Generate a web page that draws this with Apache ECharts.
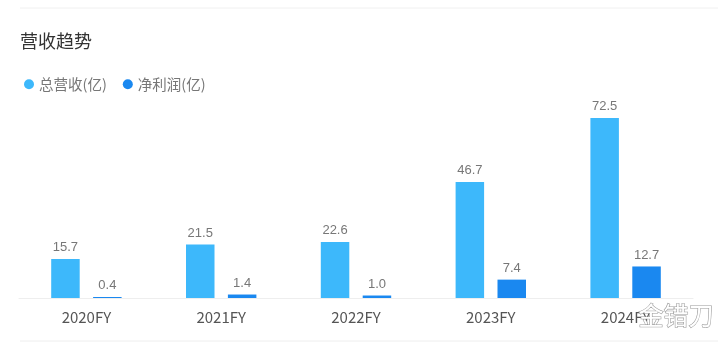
<!DOCTYPE html>
<html><head><meta charset="utf-8">
<script src="https://cdn.jsdelivr.net/npm/echarts@6/dist/echarts.min.js"></script>
<style>html,body{margin:0;padding:0;background:#fff}#c{width:718px;height:344px}</style>
</head><body><div id="c"></div>
<script>
var categories = ['2020FY','2021FY','2022FY','2023FY','2024FY'];
var revenue = [15.7, 21.5, 22.6, 46.7, 72.5];
var netProfit = [0.4, 1.4, 1.0, 7.4, 12.7];
var seriesNames = ['总营收(亿)', '净利润(亿)'];
var chart = echarts.init(document.getElementById('c'));
var font = '"Microsoft YaHei","Noto Sans CJK SC",sans-serif';
chart.setOption({
  animation: false,
  title: { text: '营收趋势', left: 15, top: 27, textStyle: { fontSize: 18, fontWeight: 'normal', color: '#333', fontFamily: font } },
  legend: {
    left: 19, top: 72, icon: 'circle', itemWidth: 10, itemHeight: 10, itemGap: 16,
    textStyle: { fontSize: 14.5, color: '#777', fontFamily: font }
  },
  graphic: [
    { type: 'line', shape: { x1: 20, y1: 8, x2: 718, y2: 8 }, style: { stroke: '#f0f0f0', lineWidth: 1 } },
    { type: 'line', shape: { x1: 20, y1: 341, x2: 718, y2: 341 }, style: { stroke: '#eeeeee', lineWidth: 1 } },
    { type: 'text', left: 638, top: 302, z: 100, style: { text: '金错刀', fontSize: 25, fill: '#ffffff', stroke: '#9a9a9a', lineWidth: 1.2, fontFamily: font } }
  ],
  grid: { left: 19, right: 25, top: 118, bottom: 46 },
  xAxis: {
    type: 'category', data: categories,
    axisLine: { lineStyle: { color: '#eeeeee' } },
    axisTick: { show: false },
    axisLabel: { fontSize: 15, color: '#555', margin: 12, fontFamily: font }
  },
  yAxis: { type: 'value', min: 0, max: 72.5, show: false, splitLine: { show: false } },
  series: [
    { name: seriesNames[0], type: 'bar', data: revenue, barWidth: 28.5, barGap: '47%',
      itemStyle: { color: '#3db8fb' },
      label: { show: true, position: 'top', fontSize: 13, color: '#777', distance: 5, formatter: function(p){ return p.value.toFixed(1); } } },
    { name: seriesNames[1], type: 'bar', data: netProfit, barWidth: 28.5,
      itemStyle: { color: '#1a88f0' },
      label: { show: true, position: 'top', fontSize: 13, color: '#777', distance: 5, formatter: function(p){ return p.value.toFixed(1); } } }
  ]
});
</script></body></html>
